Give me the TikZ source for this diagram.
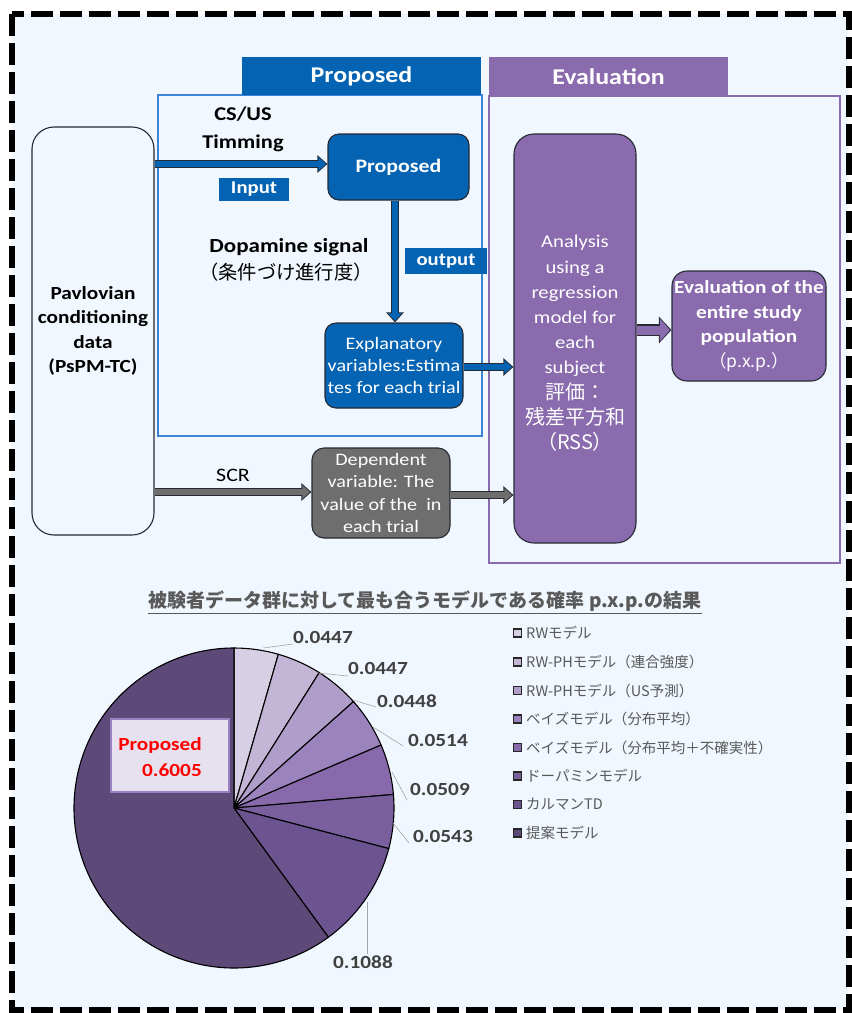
\documentclass[tikz,border=0pt]{standalone}
\usepackage{fontspec}
\setmainfont{Carlito}[FakeStretch=1.15]
\newfontfamily\jp{Noto Sans CJK JP}
\usetikzlibrary{arrows.meta}
\definecolor{bgblue}{HTML}{F0F7FE}
\definecolor{pblue}{HTML}{0563B3}
\definecolor{fblue}{HTML}{3A86D4}
\definecolor{ppur}{HTML}{8A6BAD}
\definecolor{dgray}{HTML}{6E6E6E}
\definecolor{edge}{HTML}{262A33}
\definecolor{lblgray}{HTML}{404040}
\definecolor{leggray}{HTML}{595959}
\definecolor{leadgray}{HTML}{A6A6A6}
\definecolor{pca}{HTML}{D7CFE3}
\definecolor{pcb}{HTML}{C3B5D6}
\definecolor{pcc}{HTML}{AF9EC9}
\definecolor{pcd}{HTML}{9B83BD}
\definecolor{pce}{HTML}{886AAC}
\definecolor{pcf}{HTML}{7A5F9E}
\definecolor{pcg}{HTML}{6B5490}
\definecolor{pch}{HTML}{5E4A78}
\definecolor{lblbox}{HTML}{E7E1EF}
\definecolor{lblboxedge}{HTML}{9B80C1}
\newcommand{\fsz}[2]{\fontsize{#1}{#2}\selectfont}
\begin{document}
\begin{tikzpicture}[x=1pt,y=-1pt,
  frame/.style={draw, line width=1.3pt, inner sep=0pt},
  tab/.style={text=white, inner sep=0pt, font=\bfseries\fsz{22.5}{26}},
  rbox/.style={draw=edge, line width=1.1pt, text=white, align=center, inner sep=0pt},
  txt/.style={align=center, inner sep=0pt, text=black},
  lab/.style={text=white, inner sep=0pt, font=\bfseries\fsz{18}{20}},
  bluearrow/.style={draw=pblue, line width=5.3pt, -{Triangle[length=7.5pt,width=13pt]}, shorten >=1.5pt,
     preaction={draw=edge, line width=7.5pt, -{Triangle[length=10pt,width=17pt]}, shorten >=0pt}},
  grayarrow/.style={draw=dgray, line width=5.3pt, -{Triangle[length=7.5pt,width=13pt]}, shorten >=1.5pt,
     preaction={draw=edge, line width=7.5pt, -{Triangle[length=10pt,width=17pt]}, shorten >=0pt}},
  purarrow/.style={draw=ppur, line width=9pt, -{Triangle[length=10pt,width=22pt]}, shorten >=1.5pt,
     preaction={draw=edge, line width=11.2pt, -{Triangle[length=12.5pt,width=26pt]}, shorten >=0pt}},
  slice/.style={draw=black, line width=1.1pt},
  pv/.style={font=\bfseries\fsz{18.5}{20}, text=lblgray, inner sep=1pt},
  leader/.style={draw=leadgray, line width=0.6pt},
  legsq/.style={draw=black!85, line width=1.2pt, minimum size=8pt, inner sep=0pt},
  legtxt/.style={font=\jp\fsz{14.5}{16}, text=leggray, inner sep=0pt, anchor=west}
]
\useasboundingbox (0,0) rectangle (852,1013);
\fill[white] (0,0) rectangle (852,1013);
\fill[bgblue] (12,14) rectangle (849,1010);
\draw[black, line width=6pt, dash pattern=on 22pt off 7pt] (12,14) rectangle (849,1010);

% frames and tabs
\node[frame, draw=fblue, minimum width=324pt, minimum height=341pt] (pframe) at (320,265.5) {};
\node[frame, draw=ppur, minimum width=351pt, minimum height=467pt] (eframe) at (664.5,329.5) {};
\node[tab, fill=pblue, minimum width=239pt, minimum height=38pt] (ptab) at (361.5,76) {Proposed};
\node[tab, fill=ppur, minimum width=239pt, minimum height=39pt] (etab) at (608.5,76.5) {Evaluation};

% boxes
\node[rbox, fill=bgblue, text=black, rounded corners=22pt, minimum width=122pt, minimum height=408pt,
      font=\bfseries\fsz{18.5}{24.5}] (pav) at (93,331) {Pavlovian\\conditioning\\data\\(PsPM-TC)};
\node[rbox, fill=pblue, rounded corners=11pt, minimum width=141pt, minimum height=66pt,
      font=\bfseries\fsz{19}{22}] (prop) at (398.5,167) {Proposed};
\node[rbox, fill=pblue, rounded corners=11pt, minimum width=138pt, minimum height=85pt,
      font=\fsz{17.5}{22}] (expl) at (394,365.5) {Explanatory\\variables:Estima\\tes for each trial};
\node[rbox, fill=ppur, rounded corners=20pt, minimum width=122pt, minimum height=409pt,
      label={[text=white, align=center, inner sep=0pt, yshift=-5pt, font=\fsz{18}{25.2}]center:{Analysis\\using a\\regression\\model for\\each\\subject\\{\jp\fsz{20}{25.2}評価：}\\{\jp\fsz{20}{25.2}残差平方和}\\{\jp\fsz{20}{25.2}（RSS）}}}] (ana) at (575,338.5) {};
\node[rbox, fill=ppur, rounded corners=15pt, minimum width=154pt, minimum height=110pt,
      font=\bfseries\fsz{18.5}{24.5}] (evb) at (749,326)
      {Evaluation of the\\entire study\\population\\{\jp\mdseries\fsz{17.5}{24.5}（p.x.p.）}};
\node[rbox, fill=dgray, rounded corners=12pt, minimum width=138pt, minimum height=90pt,
      font=\fsz{17.5}{22.3}] (dep) at (381,493) {Dependent\\variable: The\\value of the\ \ in\\each trial};

% free texts and labels
\node[txt, font=\bfseries\fsz{19.5}{28}] (csus) at (243,129) {CS/US\\Timming};
\node[lab, fill=pblue, minimum width=70pt, minimum height=23pt] (inp) at (254,189.5) {Input};
\node[lab, fill=pblue, minimum width=82pt, minimum height=26pt] (outp) at (446,261) {output};
\node[txt, font=\bfseries\fsz{20}{24}] (dopa) at (289,247) {Dopamine signal};
\node[txt, font=\jp\fsz{19.3}{24}] (dopaj) at (286,272) {（条件づけ進行度）};
\node[txt, font=\fsz{19}{22}] (scr) at (233,475) {SCR};

% connectors
\draw[bluearrow] (pav.east |- 0,164) -- (prop.west |- 0,164);
\draw[bluearrow] (prop.south -| 395,0) -- (expl.north -| 395,0);
\draw[bluearrow] (expl.east |- 0,367) -- (ana.west |- 0,367);
\draw[grayarrow] (pav.east |- 0,492) -- (dep.west |- 0,492);
\draw[grayarrow] (dep.east |- 0,495) -- (ana.west |- 0,495);
\draw[purarrow] (ana.east |- 0,330) -- (evb.west |- 0,330);

% title
\node[font=\jp\bfseries\fsz{19}{22}, text=leggray, inner sep=0pt] (title) at (425,602)
  {\underline{被験者データ群に対して最も合うモデルである確率 p.x.p.の結果}};

% pie
\coordinate (pc) at (234,808);
\foreach \a/\b/\c in {-90/-73.91/pca, -73.91/-57.82/pcb, -57.82/-41.69/pcc, -41.69/-23.18/pcd,
                      -23.18/-4.86/pce, -4.86/14.69/pcf, 14.69/53.86/pcg, 53.86/270/pch}
  \filldraw[slice, fill=\c] (pc) -- ++(\a:160) arc[start angle=\a, end angle=\b, radius=160] -- cycle;

\node[draw=lblboxedge, fill=lblbox, line width=1.6pt, minimum width=118pt, minimum height=73pt, inner sep=0pt] (plbl) at (170,755.5) {};
\node[align=right, anchor=east, text=red, font=\bfseries\fsz{18.5}{26}, inner sep=0pt] (ptext) at (202,757) {Proposed\\0.6005};

% value labels and leaders
\node[pv, anchor=west] (v1) at (292,637) {0.0447};
\node[pv, anchor=west] (v2) at (347,668) {0.0447};
\node[pv, anchor=west] (v3) at (376,701) {0.0448};
\node[pv, anchor=west] (v4) at (407,740) {0.0514};
\node[pv, anchor=west] (v5) at (409,789) {0.0509};
\node[pv, anchor=west] (v6) at (412,836) {0.0543};
\node[pv] (v7) at (363,962) {0.1088};
\coordinate (a1) at (263,648); \coordinate (b1) at (293,644);
\coordinate (a2) at (318,673); \coordinate (b2) at (348,676);
\coordinate (a3) at (353,700); \coordinate (b3) at (376,707);
\coordinate (a4) at (373,727); \coordinate (b4) at (403,746);
\coordinate (a5) at (392,772); \coordinate (b5) at (407,800);
\coordinate (a6) at (393,823); \coordinate (b6) at (409,843);
\coordinate (a7) at (367,902);
\draw[leader] (a1) -- (b1);
\draw[leader] (a2) -- (b2);
\draw[leader] (a3) -- (b3);
\draw[leader] (a4) -- (b4);
\draw[leader] (a5) -- (b5);
\draw[leader] (a6) -- (b6);
\draw[leader] (a7) -- (v7.north -| a7);

% legend
\node[legsq, fill=pca] (s1) at (517.5,633) {};
\node[legsq, fill=pcb] (s2) at (517.5,662) {};
\node[legsq, fill=pcc] (s3) at (517.5,690.5) {};
\node[legsq, fill=pcd] (s4) at (517.5,719) {};
\node[legsq, fill=pce] (s5) at (517.5,747.5) {};
\node[legsq, fill=pcf] (s6) at (517.5,776) {};
\node[legsq, fill=pcg] (s7) at (517.5,804.5) {};
\node[legsq, fill=pch] (s8) at (517.5,833) {};
\node[legtxt] (t1) at (526,633) {RWモデル};
\node[legtxt] (t2) at (526,662) {RW-PHモデル（連合強度）};
\node[legtxt] (t3) at (526,690.5) {RW-PHモデル（US予測）};
\node[legtxt] (t4) at (526,719) {ベイズモデル（分布平均）};
\node[legtxt] (t5) at (526,747.5) {ベイズモデル（分布平均＋不確実性）};
\node[legtxt] (t6) at (526,776) {ドーパミンモデル};
\node[legtxt] (t7) at (526,804.5) {カルマンTD};
\node[legtxt] (t8) at (526,833) {提案モデル};
\end{tikzpicture}
\end{document}
